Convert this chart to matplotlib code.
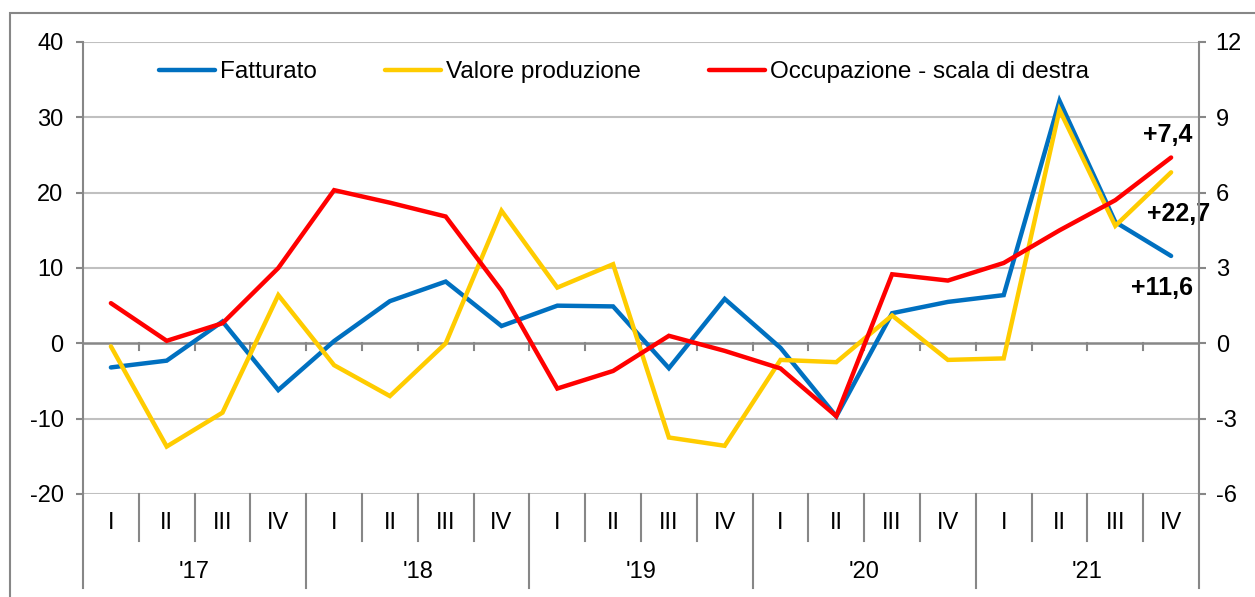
import matplotlib
matplotlib.use('Agg')
import matplotlib.pyplot as plt
from matplotlib.lines import Line2D
from matplotlib.patches import Rectangle

plt.rcParams['font.family'] = ['Liberation Sans', 'DejaVu Sans']
plt.rcParams['axes.unicode_minus'] = False

QUARTERS = ['I', 'II', 'III', 'IV'] * 5
YEARS = ["'17", "'18", "'19", "'20", "'21"]

fatturato = [-3.2, -2.3, 2.9, -6.2, 0.3, 5.6, 8.2, 2.3, 5.0, 4.9,
             -3.3, 5.9, -0.6, -9.7, 4.0, 5.5, 6.4, 32.2, 16.1, 11.6]
valore_prod = [-0.4, -13.7, -9.2, 6.4, -2.9, -7.0, 0.0, 17.6, 7.4, 10.5,
               -12.5, -13.6, -2.2, -2.5, 3.7, -2.2, -2.0, 31.0, 15.6, 22.7]
occupazione = [1.6, 0.1, 0.8, 3.0, 6.1, 5.6, 5.05, 2.1, -1.8, -1.1,
               0.3, -0.3, -1.0, -2.9, 2.75, 2.5, 3.2, 4.5, 5.7, 7.4]

LABELS = ['+7,4', '+22,7', '+11,6']

BLUE = '#0070C0'
YELLOW = '#FFCC00'
RED = '#FF0000'
GRID = '#c0c0c0'
AXIS = '#878787'

W, H = 1255, 597
fig = plt.figure(figsize=(W / 100, H / 100), dpi=100, facecolor='white')
L, R, T, B = 83, 1199, 42, 494
ax = fig.add_axes([L / W, 1 - B / H, (R - L) / W, (B - T) / H])
ax2 = ax.twinx()

# outer frame (only left/top visible)
fig.patches.append(Rectangle((10 / W, -0.1), 1.2, 1 - 13 / H + 0.1,
                             transform=fig.transFigure, fill=False,
                             edgecolor=AXIS, lw=1.5))

x = list(range(len(QUARTERS)))
ax.plot(x, fatturato, color=BLUE, lw=3.2, solid_capstyle='round',
        solid_joinstyle='miter', zorder=3)
ax.plot(x, valore_prod, color=YELLOW, lw=3.2, solid_capstyle='round',
        solid_joinstyle='miter', zorder=4)
ax2.plot(x, occupazione, color=RED, lw=3.2, solid_capstyle='round',
         solid_joinstyle='miter', zorder=5)

ax.set_xlim(-0.5, 19.5)
ax.set_ylim(-20, 40)
ax2.set_ylim(-6, 12)
ax.set_yticks(range(-20, 41, 10))
ax2.set_yticks(range(-6, 13, 3))

for a in (ax, ax2):
    a.spines['top'].set_visible(False)
    a.spines['bottom'].set_visible(False)
ax2.spines['left'].set_visible(False)
ax.spines['right'].set_visible(False)
ax.spines['left'].set_color(AXIS)
ax.spines['left'].set_linewidth(1.5)
ax2.spines['right'].set_color(AXIS)
ax2.spines['right'].set_linewidth(1.5)

ax.tick_params(axis='y', length=5, width=1.5, color=AXIS, pad=9,
               labelsize=17)
ax2.tick_params(axis='y', length=5, width=1.5, color=AXIS, pad=7,
                labelsize=17)
ax.set_xticks([])

for v in range(-20, 41, 10):
    if v != 0:
        ax.axhline(v, color=GRID, lw=1.5, zorder=1)
ax.axhline(0, color=AXIS, lw=1.8, zorder=2)

# small ticks under zero line at category boundaries
for i in range(len(QUARTERS) - 1):
    ax.plot([i + 0.5, i + 0.5], [0, -0.9], color=AXIS, lw=1.5, zorder=2)

# category labels and separators
tr = ax.get_xaxis_transform()
q_bot = -47 / (B - T)
y_bot = -94 / (B - T)
for i, q in enumerate(QUARTERS):
    ax.text(i, -29 / (B - T), q, transform=tr, ha='center', va='center',
            fontsize=17)
for k in range(len(QUARTERS) + 1):
    xb = k - 0.5
    bottom = y_bot if k % 4 == 0 else q_bot
    ax.add_line(Line2D([xb, xb], [0, bottom], transform=tr, color=AXIS,
                       lw=1.5, clip_on=False))
for j, yr in enumerate(YEARS):
    ax.text(4 * j + 1.5, -78 / (B - T), yr, transform=tr, ha='center',
            va='center', fontsize=17)

# end-point labels
ax.text(19.39, 27.6, LABELS[0], ha='right', va='center', fontsize=18,
        fontweight='bold')
ax.text(18.57, 17.2, LABELS[1], ha='left', va='center', fontsize=18,
        fontweight='bold')
ax.text(19.39, 7.3, LABELS[2], ha='right', va='center', fontsize=18,
        fontweight='bold')

handles = [Line2D([], [], color=BLUE, lw=3.2, solid_capstyle='round'),
           Line2D([], [], color=YELLOW, lw=3.2, solid_capstyle='round'),
           Line2D([], [], color=RED, lw=3.2, solid_capstyle='round')]
names = ['Fatturato', 'Valore produzione', 'Occupazione - scala di destra']
ax2.legend(handles, names, ncol=3, frameon=False, fontsize=17.5,
           loc='center', bbox_to_anchor=(624 / W, 1 - 72 / H),
           bbox_transform=fig.transFigure, handlelength=2.3,
           handletextpad=0.2, columnspacing=2.8)

fig.savefig('out.png', dpi=100, facecolor='white')
